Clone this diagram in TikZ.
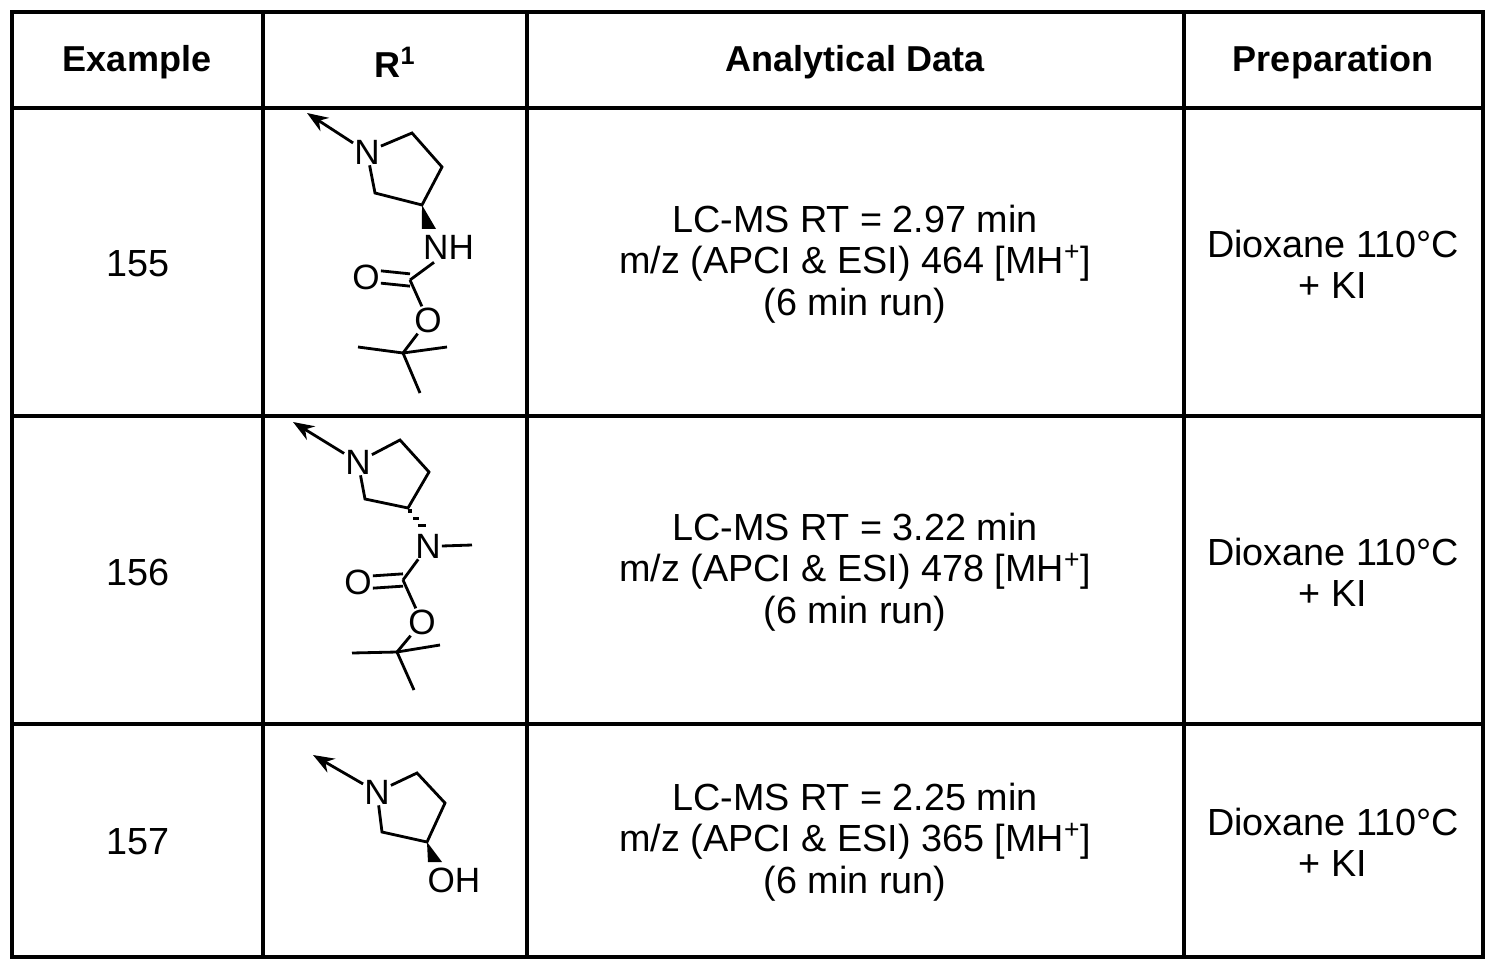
\documentclass[tikz,border=0pt]{standalone}
\usepackage{fontspec}
\setmainfont{Liberation Sans}
\usetikzlibrary{arrows.meta,calc}
\begin{document}
\begin{tikzpicture}[x=0.02cm,y=-0.02cm,
  hdr/.style={font=\fontsize{20.5}{24}\selectfont\bfseries},
  txt/.style={font=\fontsize{21.5}{23.5}\selectfont,align=center},
  atom/.style={font=\fontsize{20}{22}\selectfont,inner sep=0.5pt},
  bond/.style={line width=1.6pt},
  grid/.style={line width=1.8pt}]
\useasboundingbox (0,0) rectangle (1497,973);
% table
\draw[grid] (12,12) rectangle (1483,957);
\foreach \x in {263,527,1184} \draw[grid] (\x,12) -- (\x,957);
\foreach \y in {108,416,724} \draw[grid] (12,\y) -- (1483,\y);
\node[hdr] (h1) at (137,62) {Example};
\node[hdr] (h2) at (395,62) {R\textsuperscript{1}};
\node[hdr] (h3) at (855,62) {Analytical Data};
\node[hdr] (h4) at (1333,62) {Preparation};
% rows
\node[txt] (e1) at (138,264) {155};
\node[txt] (e2) at (138,572) {156};
\node[txt] (e3) at (138,842) {157};
\node[txt] (a1) at (855,264) {LC-MS RT = 2.97 min\\m/z (APCI \& ESI) 464 [MH\textsuperscript{+}]\\(6 min run)};
\node[txt] (a2) at (855,572) {LC-MS RT = 3.22 min\\m/z (APCI \& ESI) 478 [MH\textsuperscript{+}]\\(6 min run)};
\node[txt] (a3) at (855,842) {LC-MS RT = 2.25 min\\m/z (APCI \& ESI) 365 [MH\textsuperscript{+}]\\(6 min run)};
\foreach \y/\n in {264/p1,572/p2,842/p3}
  \node[txt] (\n) at (1333,\y) {Dioxane 110°C\\+ KI};
% structure 155
\node[atom] (n1) at (367,152) {N};
\coordinate (t1) at (307,113);
\draw[bond,-{Stealth[length=12pt,width=9pt]}] (n1) -- (t1);
\coordinate (c12) at (412,133); \coordinate (c13) at (442,167);
\coordinate (c14) at (422,205); \coordinate (c15) at (375,193);
\draw[bond] (n1) -- (c12) -- (c13) -- (c14) -- (c15) -- (n1);
\node[atom,anchor=west] (nh1) at (422,247) {NH};
\fill (c14) -- ([xshift=-4]429,229) -- ([xshift=4]429,229) -- cycle;
\coordinate (cc1) at (410,280);
\node[atom] (od1) at (366,277) {O};
\node[atom] (oe1) at (428,320) {O};
\coordinate (q1) at (403,353);
\draw[bond] (nh1.south west) ++(12,2) -- (cc1);
\draw[bond] ([yshift=-3.5]od1.east) -- ([yshift=-3.5]cc1);
\draw[bond] ([yshift=3.5]od1.east) -- ([yshift=3.5]cc1);
\draw[bond] (cc1) -- (oe1);
\draw[bond] (oe1) -- (q1);
\draw[bond] (q1) -- (358,347); \draw[bond] (q1) -- (447,347); \draw[bond] (q1) -- (420,393);
% structure 156
\node[atom] (n2) at (358,462) {N};
\coordinate (t2) at (293,422);
\draw[bond,-{Stealth[length=12pt,width=9pt]}] (n2) -- (t2);
\coordinate (c22) at (400,440); \coordinate (c23) at (429,472);
\coordinate (c24) at (408,508); \coordinate (c25) at (365,499);
\draw[bond] (n2) -- (c22) -- (c23) -- (c24) -- (c25) -- (n2);
\node[atom] (nm2) at (428,546) {N};
\foreach \f/\w in {0.12/2,0.42/3,0.72/4} \draw[line width=1.8pt] ($(c24)!\f!(nm2.north)$) ++(-\w,0) -- ++(2*\w,0);
\draw[bond] (nm2.east) -- (472,545);
\coordinate (cc2) at (403,580);
\node[atom] (od2) at (358,582) {O};
\node[atom] (oe2) at (422,622) {O};
\coordinate (q2) at (397,652);
\draw[bond] (nm2) -- (cc2);
\draw[bond] ([yshift=-3.5]od2.east) -- ([yshift=-3.5]cc2);
\draw[bond] ([yshift=3.5]od2.east) -- ([yshift=3.5]cc2);
\draw[bond] (cc2) -- (oe2);
\draw[bond] (oe2) -- (q2);
\draw[bond] (q2) -- (352,653); \draw[bond] (q2) -- (440,645); \draw[bond] (q2) -- (414,690);
% structure 157
\node[atom] (n3) at (377,792) {N};
\coordinate (t3) at (313,755);
\draw[bond,-{Stealth[length=12pt,width=9pt]}] (n3) -- (t3);
\coordinate (c32) at (417,773); \coordinate (c33) at (445,803);
\coordinate (c34) at (427,842); \coordinate (c35) at (382,832);
\draw[bond] (n3) -- (c32) -- (c33) -- (c34) -- (c35) -- (n3);
\node[atom] (oh3) at (454,880) {OH};
\fill (c34) -- ([xshift=-4]435,862) -- ([xshift=4]435,862) -- cycle;
\end{tikzpicture}
\end{document}
